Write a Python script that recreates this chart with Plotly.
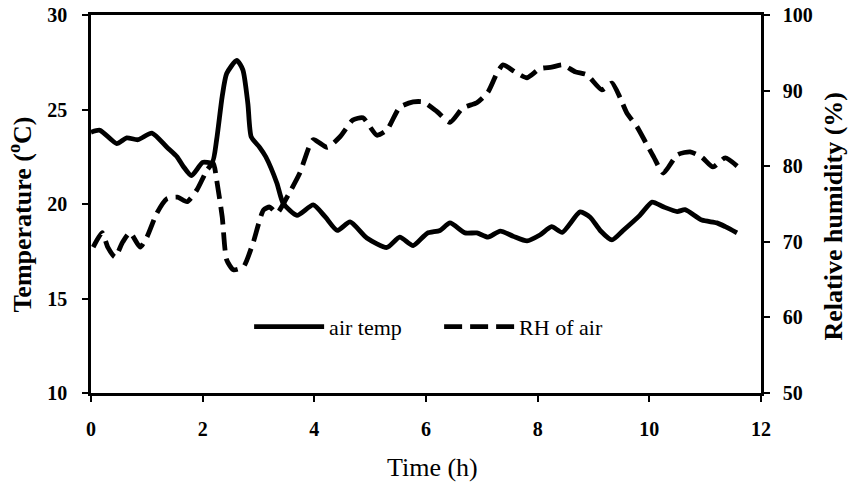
import plotly.graph_objects as go

# Air temperature (left axis, °C)
t_temp = [0, 0.16, 0.46, 0.64, 0.84, 1.09, 1.36, 1.54, 1.65, 1.8, 2.0, 2.17, 2.25, 2.35, 2.43,
          2.61, 2.72, 2.81, 2.87, 3.02, 3.13, 3.33, 3.44, 3.69, 3.98, 4.2, 4.41, 4.64, 4.94,
          5.3, 5.53, 5.77, 6.02, 6.25, 6.43, 6.7, 6.91, 7.11, 7.33, 7.56, 7.81, 8.04, 8.25,
          8.44, 8.76, 8.94, 9.12, 9.33, 9.53, 9.83, 10.05, 10.25, 10.5, 10.64, 10.94, 11.21,
          11.36, 11.57]
air_temp = [23.8, 23.9, 23.2, 23.5, 23.4, 23.75, 23.0, 22.5, 22.0, 21.5, 22.2, 22.2, 23.4, 25.7,
            26.9, 27.6, 27.1, 25.3, 23.55, 23.0, 22.5, 21.1, 20.05, 19.4, 19.95, 19.3, 18.6,
            19.05, 18.2, 17.7, 18.25, 17.8, 18.45, 18.6, 19.0, 18.47, 18.47, 18.25, 18.57, 18.3,
            18.05, 18.36, 18.8, 18.5, 19.58, 19.3, 18.6, 18.1, 18.6, 19.4, 20.1, 19.85, 19.6,
            19.7, 19.15, 19.0, 18.8, 18.47]

# Relative humidity of air (right axis, %)
t_rh = [0.04, 0.2, 0.3, 0.43, 0.57, 0.7, 0.88, 1.0, 1.18, 1.36, 1.55, 1.72, 1.9, 2.08, 2.19,
        2.25, 2.35, 2.43, 2.55, 2.73, 2.9, 3.09, 3.2, 3.33, 3.51, 3.74, 3.98, 4.23, 4.46, 4.69,
        4.87, 5.12, 5.3, 5.53, 5.77, 5.95, 6.2, 6.43, 6.66, 6.91, 7.11, 7.27, 7.38, 7.59, 7.81,
        8.04, 8.25, 8.45, 8.67, 8.88, 9.15, 9.33, 9.48, 9.6, 9.78, 9.96, 10.08, 10.25, 10.5,
        10.73, 10.94, 11.14, 11.36, 11.59]
rh_air = [69.3, 71.2, 69.3, 68.0, 70.0, 71.2, 69.3, 70.6, 73.8, 75.7, 75.9, 75.3, 76.9, 79.5,
          80.4, 78.2, 73.3, 67.6, 66.3, 66.7, 69.8, 74.2, 74.6, 73.8, 75.9, 79.1, 83.5, 82.5,
          83.9, 86.1, 86.4, 84.1, 84.8, 87.8, 88.5, 88.5, 87.2, 85.8, 87.7, 88.4, 89.8, 92.3,
          93.4, 92.5, 91.7, 92.9, 93.1, 93.4, 92.5, 92.1, 90.1, 91.0, 89.0, 87.0, 85.2, 82.8,
          81.2, 79.1, 81.5, 81.9, 81.2, 79.9, 81.1, 79.9]

x_ticks = [0, 2, 4, 6, 8, 10, 12]
y1_ticks = [10, 15, 20, 25, 30]
y2_ticks = [50, 60, 70, 80, 90, 100]

x_title = "Time (h)"
y1_title = "Temperature (<sup>o</sup>C)"
y2_title = "Relative humidity (%)"

FONT = "Liberation Serif, Times New Roman, serif"

fig = go.Figure()
fig.add_trace(go.Scatter(
    x=t_temp, y=air_temp, name="air temp", mode="lines",
    line=dict(color="black", width=4.8, shape="spline", smoothing=0.6),
    yaxis="y"))
fig.add_trace(go.Scatter(
    x=t_rh, y=rh_air, name="RH of air", mode="lines",
    line=dict(color="black", width=4.8, dash="18px,8px", shape="spline", smoothing=0.6),
    yaxis="y2"))

tickfont = dict(family=FONT, size=20, color="black", weight="bold")
titlefont = dict(family=FONT, size=26, color="black", weight="bold")

fig.update_layout(
    width=850, height=483,
    margin=dict(l=91, r=89, t=15, b=90, autoexpand=False),
    paper_bgcolor="white", plot_bgcolor="white",
    font=dict(family=FONT, color="black"),
    showlegend=True,
    legend=dict(orientation="h", x=0.236, y=0.175, xanchor="left", yanchor="middle",
                font=dict(family=FONT, size=22, color="black"),
                bgcolor="rgba(0,0,0,0)", itemwidth=70,
                entrywidth=105, entrywidthmode="pixels"),
    xaxis=dict(range=[0, 12], tickvals=x_ticks, ticks="outside", ticklen=6, tickwidth=2,
               tickcolor="black", showline=True, linecolor="black", linewidth=2.5,
               mirror=True, showgrid=False, zeroline=False, tickfont=tickfont,
               ticklabelstandoff=10, automargin=False),
    yaxis=dict(range=[10, 30], tickvals=y1_ticks, ticks="outside", ticklen=6, tickwidth=2,
               tickcolor="black", showline=True, linecolor="black", linewidth=2.5,
               showgrid=False, zeroline=False, tickfont=tickfont, ticklabelstandoff=11,
               automargin=False),
    yaxis2=dict(range=[50, 100], tickvals=y2_ticks, ticks="outside", ticklen=6, tickwidth=2,
                tickcolor="black", showline=True, linecolor="black", linewidth=2.5,
                overlaying="y", side="right", showgrid=False, zeroline=False,
                tickfont=tickfont, ticklabelstandoff=9, automargin=False),
    annotations=[
        dict(text=x_title, xref="paper", yref="paper", x=0.51, y=-0.198,
             xanchor="center", yanchor="middle", showarrow=False,
             font=dict(family=FONT, size=26, color="black")),
        dict(text=y1_title, xref="paper", yref="paper", x=-0.105, y=0.471,
             xanchor="center", yanchor="middle", showarrow=False, textangle=-90,
             font=titlefont),
        dict(text=y2_title, xref="paper", yref="paper", x=1.108, y=0.468,
             xanchor="center", yanchor="middle", showarrow=False, textangle=-90,
             font=titlefont),
    ],
)

fig.write_html("out.html", config={"displayModeBar": False},
               post_script="document.body.style.margin='0';document.body.style.overflow='hidden';")
